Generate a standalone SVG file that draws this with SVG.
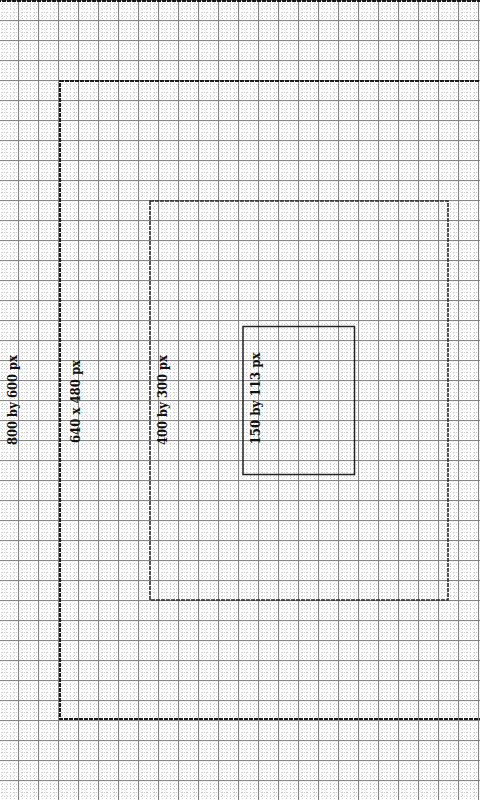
<svg xmlns="http://www.w3.org/2000/svg" width="480" height="800" viewBox="0 0 480 800">
  <defs>
    <pattern id="grid" x="18" y="0" width="20" height="20" patternUnits="userSpaceOnUse">
      <g stroke="#cfcfcf" stroke-width="1" stroke-dasharray="1 2">
        <line x1="4.5" y1="0" x2="4.5" y2="20"/>
        <line x1="8.5" y1="0" x2="8.5" y2="20"/>
        <line x1="12.5" y1="0" x2="12.5" y2="20"/>
        <line x1="16.5" y1="0" x2="16.5" y2="20"/>
        <line x1="0" y1="4.5" x2="20" y2="4.5"/>
        <line x1="0" y1="8.5" x2="20" y2="8.5"/>
        <line x1="0" y1="12.5" x2="20" y2="12.5"/>
        <line x1="0" y1="16.5" x2="20" y2="16.5"/>
      </g>
      <g stroke="#858585" stroke-width="1.2">
        <line x1="0.5" y1="0" x2="0.5" y2="20"/>
        <line x1="0" y1="0.5" x2="20" y2="0.5"/>
      </g>
    </pattern>
    <style>
      .frame { fill: none; stroke: #1a1a1a; stroke-width: 2; stroke-dasharray: 4 1; }
      .mid { fill: none; stroke: #2a2a2a; stroke-width: 1.6; stroke-dasharray: 4 1; }
      .inner { fill: none; stroke: #222; stroke-width: 1.5; }
      .lbl { font-family: "DejaVu Serif", "Liberation Serif", serif; font-weight: bold; font-size: 13.5px; fill: #111; text-anchor: middle; }
    </style>
  </defs>
  <rect x="0" y="0" width="480" height="800" fill="#ffffff"/>
  <rect x="0" y="0" width="480" height="800" fill="url(#grid)"/>

  <g id="frame-800x600">
    <rect class="frame" x="-3" y="1" width="603" height="800"/>
    <text class="lbl" transform="translate(16.5 400) rotate(-90)" textLength="90" lengthAdjust="spacingAndGlyphs">800 by 600 px</text>
  </g>
  <g id="frame-640x480">
    <rect class="frame" x="60" y="81" width="480" height="638"/>
    <text class="lbl" transform="translate(80 401.5) rotate(-90)" textLength="83" lengthAdjust="spacingAndGlyphs">640 x 480 px</text>
  </g>
  <g id="frame-400x300">
    <rect class="mid" x="150" y="201" width="298" height="399"/>
    <text class="lbl" transform="translate(166.5 400) rotate(-90)" textLength="90" lengthAdjust="spacingAndGlyphs">400 by 300 px</text>
  </g>
  <g id="frame-150x113">
    <rect class="inner" x="243" y="326.5" width="111.5" height="148"/>
    <text class="lbl" transform="translate(260 398.5) rotate(-90)" textLength="92" lengthAdjust="spacingAndGlyphs">150 by 113 px</text>
  </g>
  <g id="connectors"></g>
</svg>
